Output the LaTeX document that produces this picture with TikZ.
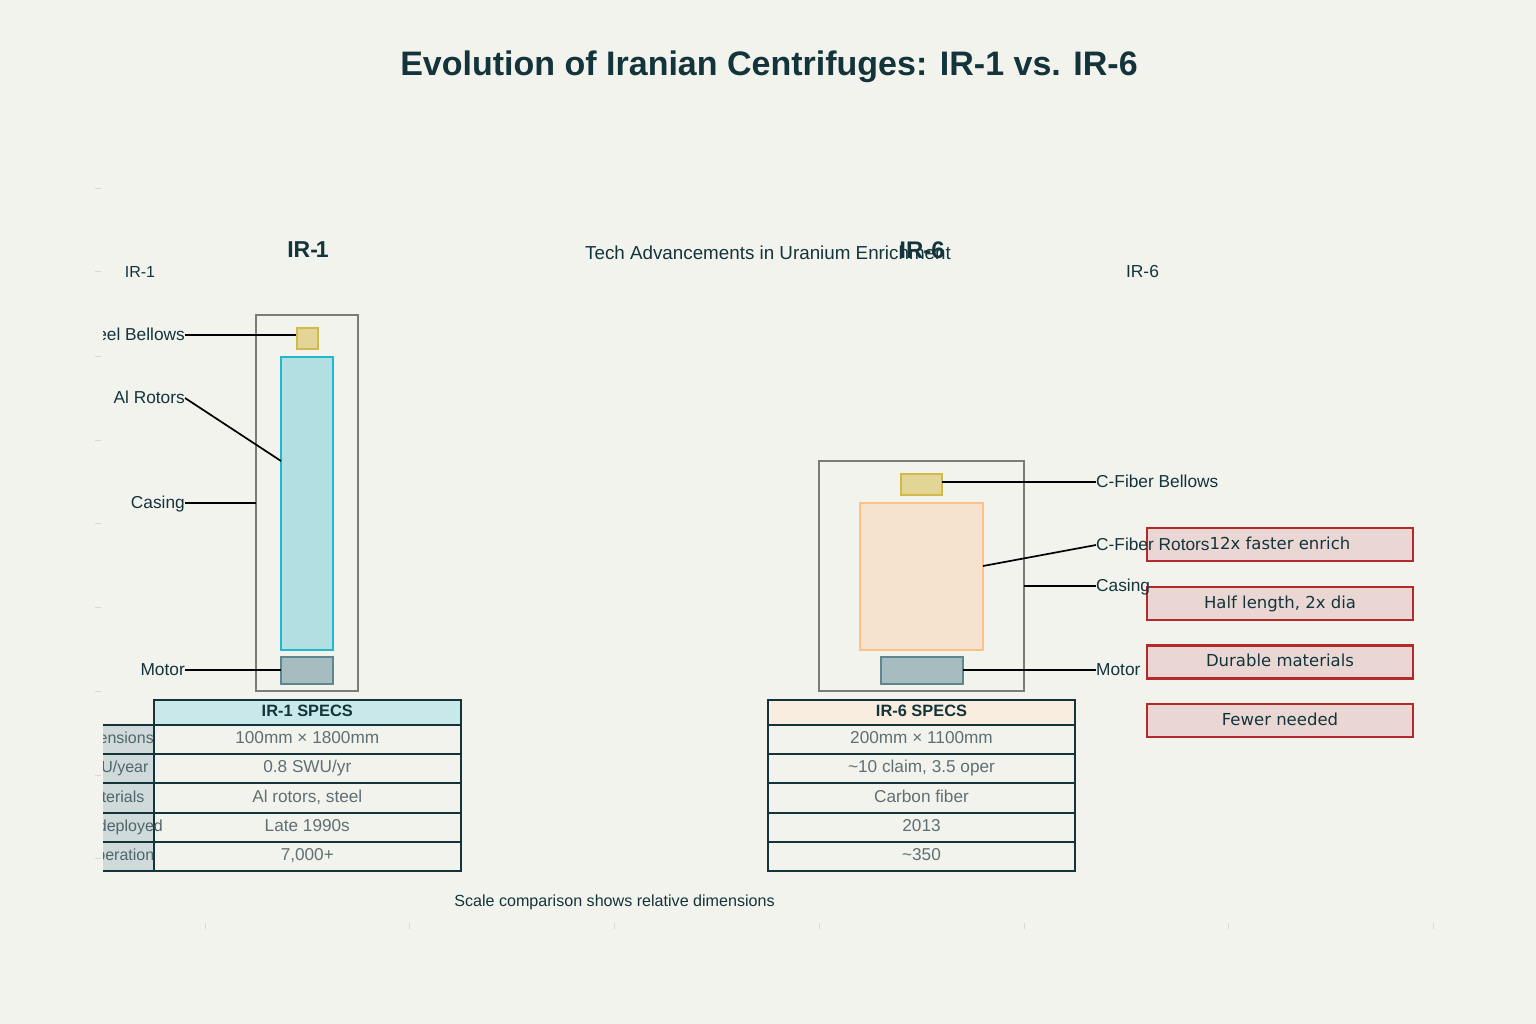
\documentclass[tikz,border=0pt]{standalone}
\usepackage{fontspec}
\usepackage{tikz}
\setmainfont{Liberation Sans}
\newfontfamily\boxfont{DejaVu Sans}

\definecolor{pagebg}{HTML}{F3F3EE}
\definecolor{inkdark}{HTML}{13343B}
\definecolor{inkgray}{HTML}{5F6F73}
\definecolor{tickgray}{HTML}{D9D9D2}
\definecolor{casegray}{HTML}{7B7B78}
\definecolor{bellowfill}{HTML}{E2D595}
\definecolor{bellowline}{HTML}{D1B94B}
\definecolor{alfill}{HTML}{B2E0E2}
\definecolor{alline}{HTML}{1FB8CD}
\definecolor{cfill}{HTML}{F5E2CF}
\definecolor{cline}{HTML}{FFC185}
\definecolor{motorfill}{HTML}{A7BCC0}
\definecolor{motorline}{HTML}{5D878F}
\definecolor{headone}{HTML}{C8E8EA}
\definecolor{headsix}{HTML}{F8EDDF}
\definecolor{rowlabel}{HTML}{D0DADB}
\definecolor{notefill}{HTML}{EAD7D4}
\definecolor{noteline}{HTML}{B4292A}

\tikzset{
    part/.style = {rectangle, inner sep = 0, outer sep = 0, line width = 2pt},
    callout/.style = {inner sep = 0, text height = 11pt, text depth = 1pt, text = inkdark, font = \fontsize{17.3}{18}\selectfont},
    leader/.style = {line width = 1.7pt, black},
    cell/.style = {rectangle, draw = inkdark, line width = 2pt, inner sep = 0, outer sep = 0, minimum width = 307.5pt, text height = 11pt, text depth = 3pt, text = inkgray, font = \fontsize{17.2}{18}\selectfont},
    headcell/.style = {cell, minimum height = 25pt, text = inkdark, font = \fontsize{16.4}{18}\selectfont\bfseries},
    sidecell/.style = {cell, minimum width = 102pt, fill = rowlabel},
    sidetext/.style = {inner sep = 0, text height = 11pt, text depth = 3pt, text = inkdark!75, font = \fontsize{16}{18}\selectfont},
    note/.style = {rectangle, draw = noteline, fill = notefill, line width = 2.2pt, inner sep = 0, outer sep = 0, minimum width = 266pt, minimum height = 33pt, text height = 12pt, text depth = 3pt, text = inkdark, font = \boxfont\fontsize{16.5}{18}\selectfont},
    plain/.style = {inner sep = 0, text = inkdark}
}

\begin{document}
\begin{tikzpicture}[x = 1pt, y = -1pt]
        \useasboundingbox (0,0) rectangle (1536,1024);
        \fill[pagebg] (0,0) rectangle (1536,1024);

        \foreach \ty in {189,272,356,440,523,607,691,775,858}
            \draw[tickgray, line width = 1pt] (95,\ty) -- (101,\ty);
        \foreach \tx in {205,409,614,819,1024,1228,1433}
            \draw[tickgray, line width = 1pt] (\tx,923) -- (\tx,929);

        \node[plain, font = \fontsize{34}{40}\selectfont\bfseries] (title) at (769,67) {Evolution of Iranian Centrifuges: IR-1 vs. IR-6};
        \node[plain, font = \fontsize{18.8}{22}\selectfont] (subtitle) at (768,253) {Tech Advancements in Uranium Enrichment};
        \node[plain, font = \fontsize{23}{28}\selectfont\bfseries] (headone) at (308,250) {IR-\kern-2pt 1};
        \node[plain, font = \fontsize{24}{28}\selectfont\bfseries] (headsix) at (922,250) {IR-6};
        \node[plain, font = \fontsize{16}{18}\selectfont] (tagone) at (140,271.5) {IR-1};
        \node[plain, font = \fontsize{17.4}{18}\selectfont] (tagsix) at (1142.5,271.5) {IR-6};
        \node[plain, font = \fontsize{16.1}{18}\selectfont] (footnote) at (614.5,902) {Scale comparison shows relative dimensions};

        \node[part, draw = casegray, minimum width = 102pt, minimum height = 376pt] (caseone) at (307,503) {};
        \node[part, draw = bellowline, fill = bellowfill, minimum width = 21pt, minimum height = 21pt] (bellowone) at (307,338) {};
        \node[part, draw = alline, fill = alfill, minimum width = 52pt, minimum height = 293pt] (rotorone) at (307,503.5) {};
        \node[part, draw = motorline, fill = motorfill, minimum width = 52pt, minimum height = 27pt] (motorone) at (307,670) {};

        \node[part, draw = casegray, minimum width = 205pt, minimum height = 230pt] (casesix) at (921.5,576) {};
        \node[part, draw = bellowline, fill = bellowfill, minimum width = 41pt, minimum height = 21pt] (bellowsix) at (921.5,484) {};
        \node[part, draw = cline, fill = cfill, minimum width = 123pt, minimum height = 147pt] (rotorsix) at (921.5,576.5) {};
        \node[part, draw = motorline, fill = motorfill, minimum width = 82pt, minimum height = 27pt] (motorsix) at (921.5,670) {};

        \begin{scope}
            \clip (103,300) rectangle (1536,1000);
            \node[callout, anchor = east] (lblbellowone) at (185,335) {Steel Bellows};
            \node[callout, anchor = east] (lblrotorone) at (185,398) {Al Rotors};
            \node[callout, anchor = east] (lblcaseone) at (185,503) {Casing};
            \node[callout, anchor = east] (lblmotorone) at (185,670) {Motor};

            \node[sidecell, minimum height = 29.3pt] (rowdim) at (102.5,739.5) {};
            \node[sidecell, minimum height = 29.3pt] (rowswu) at (102.5,768.8) {};
            \node[sidecell, minimum height = 29.3pt] (rowmat) at (102.5,798.1) {};
            \node[sidecell, minimum height = 29.3pt] (rowyear) at (102.5,827.4) {};
            \node[sidecell, minimum height = 29.3pt] (rowoper) at (102.5,856.7) {};
        \end{scope}

        \node[headcell, fill = headone] (specone) at (307.3,712.5) {IR-1 SPECS};
        \node[cell, minimum height = 29.3pt] (dimone) at (307.3,739.5) {100mm × 1800mm};
        \node[cell, minimum height = 29.3pt] (swuone) at (307.3,768.8) {0.8 SWU/yr};
        \node[cell, minimum height = 29.3pt] (matone) at (307.3,798.1) {Al rotors, steel};
        \node[cell, minimum height = 29.3pt] (yearone) at (307.3,827.4) {Late 1990s};
        \node[cell, minimum height = 29.3pt] (operone) at (307.3,856.7) {7,000+};

        \begin{scope}
            \clip (103,700) rectangle (300,880);
            \node[sidetext] (txtdim) at (112,739.5) {Dimensions};
            \node[sidetext] (txtswu) at (112,768.8) {SWU/year};
            \node[sidetext] (txtmat) at (112,798.1) {Materials};
            \node[sidetext] (txtyear) at (112,827.4) {Year deployed};
            \node[sidetext] (txtoper) at (112,856.7) {In operation};
        \end{scope}

        \node[headcell, fill = headsix] (specsix) at (921.5,712.5) {IR-6 SPECS};
        \node[cell, minimum height = 29.3pt] (dimsix) at (921.5,739.5) {200mm × 1100mm};
        \node[cell, minimum height = 29.3pt] (swusix) at (921.5,768.8) {\textasciitilde10 claim, 3.5 oper};
        \node[cell, minimum height = 29.3pt] (matsix) at (921.5,798.1) {Carbon fiber};
        \node[cell, minimum height = 29.3pt] (yearsix) at (921.5,827.4) {2013};
        \node[cell, minimum height = 29.3pt] (opersix) at (921.5,856.7) {\textasciitilde350};

        \node[note] (noteone) at (1280,544.5) {12x faster enrich};
        \node[note] (notetwo) at (1280,603.5) {Half length, 2x dia};
        \node[note] (notethree) at (1280,662) {Durable materials};
        \node[note] (notefour) at (1280,720.5) {Fewer needed};

        \node[callout, anchor = west] (lblbellowsix) at (1096,482) {C-Fiber Bellows};
        \node[callout, anchor = west] (lblrotorsix) at (1096,545) {C-Fiber Rotors};
        \node[callout, anchor = west] (lblcasesix) at (1096,586) {Casing};
        \node[callout, anchor = west] (lblmotorsix) at (1096,670) {Motor};

        \coordinate (endbellowone) at (296,335);
        \coordinate (endrotorone) at (281,461);
        \coordinate (endbellowsix) at (942,482);
        \coordinate (endrotorsix) at (983,566);
        \coordinate (endcasesix) at (1024,586);

        \draw[leader] (lblbellowone.east) -- (endbellowone);
        \draw[leader] (lblrotorone.east) -- (endrotorone);
        \draw[leader] (lblcaseone.east) -- (caseone.west);
        \draw[leader] (lblmotorone.east) -- (motorone.west);
        \draw[leader] (lblbellowsix.west) -- (endbellowsix);
        \draw[leader] (lblrotorsix.west) -- (endrotorsix);
        \draw[leader] (lblcasesix.west) -- (endcasesix);
        \draw[leader] (lblmotorsix.west) -- (motorsix.east);
\end{tikzpicture}
\end{document}
